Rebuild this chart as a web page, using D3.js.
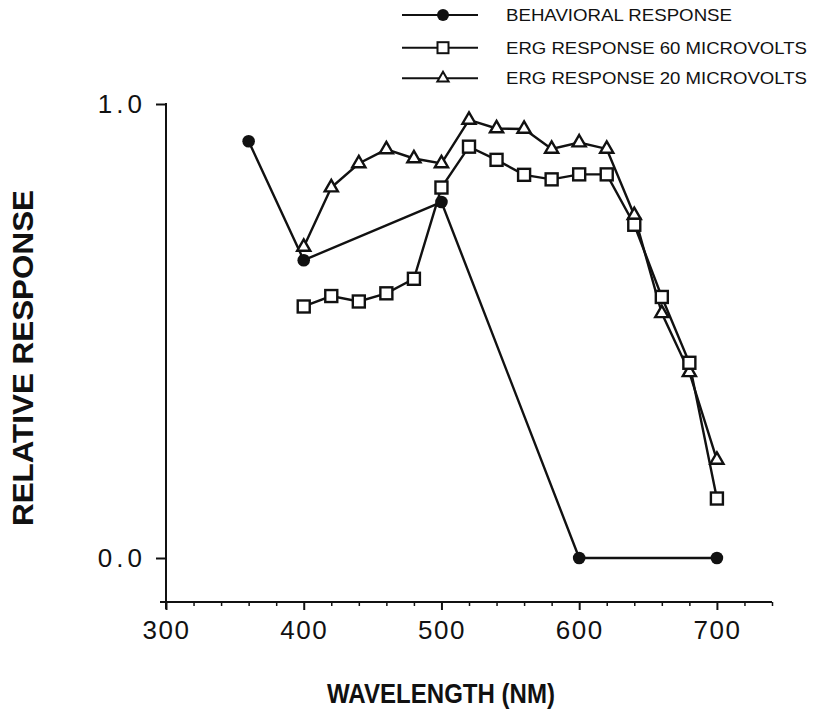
<!DOCTYPE html>
<html><head><meta charset="utf-8">
<script src="https://cdn.jsdelivr.net/npm/d3@7"></script>
<style>body{margin:0;background:#fff}svg{display:block}</style>
</head><body>
<svg id="c" width="814" height="710"></svg>
<script>
// Data
const behavioralX = [360, 400, 500, 600, 700];
const behavioralY = [0.918, 0.656, 0.784, 0.0, 0.0];
const erg60X = [400, 420, 440, 460, 480, 500, 520, 540, 560, 580, 600, 620, 640, 660, 680, 700];
const erg60Y = [0.554, 0.577, 0.565, 0.583, 0.615, 0.816, 0.906, 0.877, 0.844, 0.834, 0.845, 0.845, 0.734, 0.575, 0.43, 0.131];
const erg20X = [400, 420, 440, 460, 480, 500, 520, 540, 560, 580, 600, 620, 640, 660, 680, 700];
const erg20Y = [0.685, 0.816, 0.869, 0.9, 0.88, 0.869, 0.965, 0.946, 0.945, 0.901, 0.915, 0.901, 0.755, 0.539, 0.409, 0.216];
const xTicks = [300, 400, 500, 600, 700];
const xMinorTicks = d3.range(300, 741, 20);
const yTicks = [0.0, 1.0];
const legendLabels = ["BEHAVIORAL RESPONSE", "ERG RESPONSE 60 MICROVOLTS", "ERG RESPONSE 20 MICROVOLTS"];

const svg = d3.select("#c");
const ink = "#111";
const x = d3.scaleLinear().domain([300, 740]).range([166, 772]);
const y = d3.scaleLinear().domain([-0.1, 1.0]).range([603.4, 104]);
const axisY = 602;

// X axis
const gx = svg.append("g").attr("transform", `translate(0,${axisY})`);
gx.call(d3.axisBottom(x).tickValues(xTicks).tickSize(8).tickPadding(8).tickFormat(d3.format("d")));
gx.select(".domain").remove();
gx.selectAll(".tick line").attr("stroke", ink).attr("stroke-width", 2);
gx.selectAll(".tick text").attr("font-family", "Liberation Sans, Arial, sans-serif").attr("font-size", 26)
  .attr("letter-spacing", 1.5).attr("fill", ink).attr("dy", "0.8em");
const gxm = svg.append("g").attr("transform", `translate(0,${axisY})`);
gxm.call(d3.axisBottom(x).tickValues(xMinorTicks.filter(v => !xTicks.includes(v))).tickSize(4).tickFormat(""));
gxm.select(".domain").remove();
gxm.selectAll(".tick line").attr("stroke", ink).attr("stroke-width", 1.5);
svg.append("line").attr("x1", 160).attr("x2", 772).attr("y1", axisY).attr("y2", axisY).attr("stroke", ink).attr("stroke-width", 2);

// Y axis
const gy = svg.append("g").attr("transform", `translate(${x(300)},0)`);
gy.call(d3.axisLeft(y).tickValues(yTicks).tickSize(10).tickPadding(10).tickFormat(d3.format(".1f")));
gy.select(".domain").remove();
gy.selectAll(".tick line").attr("stroke", ink).attr("stroke-width", 2);
gy.selectAll(".tick text").attr("font-family", "Liberation Sans, Arial, sans-serif").attr("font-size", 26).attr("fill", ink).attr("letter-spacing", 4);
svg.append("line").attr("x1", x(300)).attr("x2", x(300)).attr("y1", y(1.0) - 1).attr("y2", 609).attr("stroke", ink).attr("stroke-width", 2);

// Axis titles
svg.append("text").attr("x", 441).attr("y", 703).attr("text-anchor", "middle")
  .attr("font-family", "Liberation Sans, Arial, sans-serif").attr("font-weight", "bold").attr("font-size", 27)
  .attr("textLength", 228).attr("lengthAdjust", "spacingAndGlyphs").attr("fill", ink).text("WAVELENGTH (NM)");
svg.append("text").attr("transform", "translate(33,358) rotate(-90)").attr("text-anchor", "middle")
  .attr("font-family", "Liberation Sans, Arial, sans-serif").attr("font-weight", "bold").attr("font-size", 29)
  .attr("textLength", 336).attr("lengthAdjust", "spacingAndGlyphs").attr("fill", ink).text("RELATIVE RESPONSE");

// Series
const line = d3.line().x(d => x(d[0])).y(d => y(d[1]));
function series(xs, ys) { return xs.map((v, i) => [v, ys[i]]); }
const b = series(behavioralX, behavioralY), e60 = series(erg60X, erg60Y), e20 = series(erg20X, erg20Y);
[e20, e60, b].forEach(s => svg.append("path").datum(s).attr("d", line).attr("fill", "none").attr("stroke", ink).attr("stroke-width", 2.4));

const tri = d3.symbol().type(d3.symbolTriangle).size(75);
const g20 = svg.append("g");
g20.selectAll("path").data(e20).join("path").attr("d", tri)
  .attr("transform", d => `translate(${x(d[0])},${y(d[1])})`).attr("fill", "#fff").attr("stroke", ink).attr("stroke-width", 2.4);
const g60 = svg.append("g");
g60.selectAll("rect").data(e60).join("rect").attr("x", d => x(d[0]) - 6).attr("y", d => y(d[1]) - 6)
  .attr("width", 12).attr("height", 12).attr("fill", "#fff").attr("stroke", ink).attr("stroke-width", 2.4);
const gb = svg.append("g");
gb.selectAll("circle").data(b).join("circle").attr("cx", d => x(d[0])).attr("cy", d => y(d[1])).attr("r", 6.3).attr("fill", ink);

// Legend
const legY = [15, 47.7, 78.3];
const legW = [226, 301, 301];
legendLabels.forEach((t, i) => {
  const ly = legY[i];
  svg.append("line").attr("x1", 402).attr("x2", 478).attr("y1", ly).attr("y2", ly).attr("stroke", ink).attr("stroke-width", 2);
  if (i === 0) svg.append("circle").attr("cx", 443).attr("cy", ly).attr("r", 6).attr("fill", ink);
  if (i === 1) svg.append("rect").attr("x", 437.5).attr("y", ly - 5.5).attr("width", 11).attr("height", 11).attr("fill", "#fff").attr("stroke", ink).attr("stroke-width", 2);
  if (i === 2) svg.append("path").attr("d", d3.symbol().type(d3.symbolTriangle).size(55)()).attr("transform", `translate(443,${ly})`).attr("fill", "#fff").attr("stroke", ink).attr("stroke-width", 2);
  svg.append("text").attr("x", 506).attr("y", ly + 5.8).attr("font-family", "Liberation Sans, Arial, sans-serif").attr("font-size", 16.5)
    .attr("textLength", legW[i]).attr("lengthAdjust", "spacingAndGlyphs").attr("fill", ink).text(t);
});
</script>
</body></html>
